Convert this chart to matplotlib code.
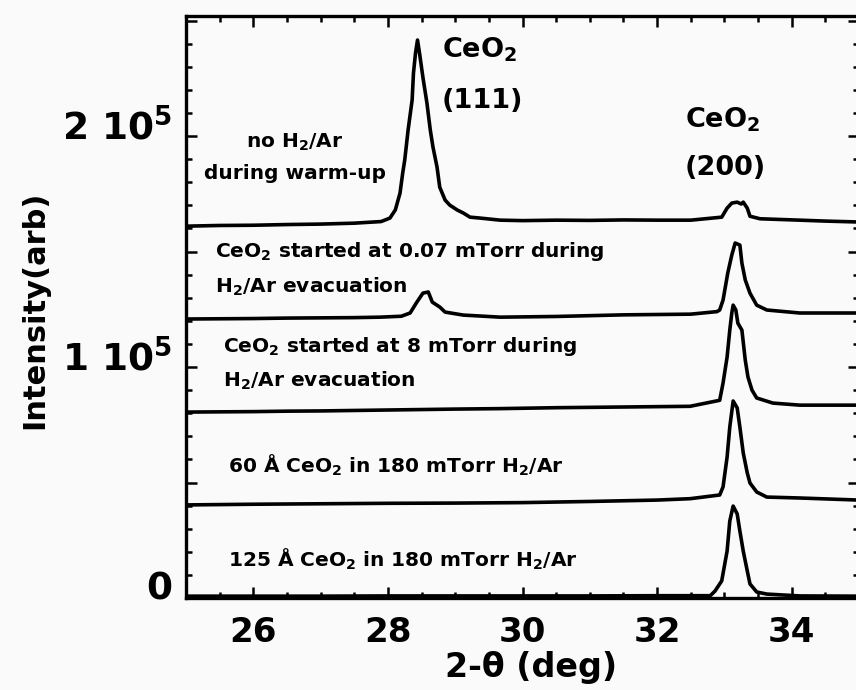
import matplotlib
matplotlib.use("Agg")
import matplotlib.pyplot as plt
import matplotlib.transforms as mtransforms
from matplotlib.ticker import FixedLocator, MultipleLocator

plt.rcParams["font.family"] = ["DejaVu Sans"]
plt.rcParams["font.weight"] = "bold"
plt.rcParams["axes.labelweight"] = "bold"
plt.rcParams["mathtext.fontset"] = "custom"
plt.rcParams["mathtext.rm"] = "DejaVu Sans:bold"
plt.rcParams["mathtext.bf"] = "DejaVu Sans:bold"
plt.rcParams["mathtext.default"] = "rm"

# trace 1: no H2/Ar during warm-up
tt_warmup = [25.0, 25.5, 26.0, 26.5, 27.0, 27.5, 27.9, 28.03, 28.11, 28.18, 28.22,
             28.25, 28.30, 28.36, 28.38, 28.41, 28.44, 28.47, 28.52, 28.58, 28.63,
             28.67, 28.73, 28.77, 28.85, 28.92, 29.03, 29.12, 29.22, 29.37, 29.67,
             30.0, 30.5, 31.0, 31.5, 32.0, 32.5, 32.96, 33.04, 33.11, 33.19, 33.25,
             33.28, 33.34, 33.38, 33.53, 34.12, 34.5, 35.0]
int_warmup = [161000, 161300, 161400, 161700, 161900, 162300, 163000, 164500, 168000,
              175300, 184000, 189600, 202600, 215600, 227300, 235900, 241600, 235900,
              225500, 214300, 202600, 195200, 186600, 177900, 172300, 170100, 168000,
              166700, 164900, 164500, 163600, 163400, 163600, 163500, 163700, 163600,
              163600, 164900, 168800, 171000, 171400, 170600, 171400, 168800, 165300,
              164200, 163600, 163200, 162800]

# trace 2: started at 0.07 mTorr
tt_007 = [25.0, 25.5, 26.0, 26.5, 27.0, 27.5, 27.88, 28.2, 28.33, 28.43, 28.52, 28.60,
          28.66, 28.77, 28.85, 29.12, 29.67, 30.5, 31.5, 32.5, 32.89, 32.93, 32.98,
          33.05, 33.11, 33.16, 33.23, 33.26, 33.31, 33.38, 33.48, 33.63, 34.12, 34.5,
          35.0]
int_007 = [120800, 120900, 121000, 121200, 121300, 121400, 121600, 122000, 123400,
           128100, 132000, 132500, 128100, 126000, 123800, 122500, 121600, 121900,
           122600, 122900, 124000, 124700, 129000, 140700, 148500, 153700, 152800,
           145000, 137700, 132000, 126800, 124700, 123400, 123400, 123400]

# trace 3: started at 8 mTorr
tt_8 = [25.0, 25.5, 26.0, 26.5, 27.0, 27.5, 28.0, 28.5, 29.0, 29.67, 30.5, 31.5,
        32.49, 32.93, 32.98, 33.04, 33.08, 33.11, 33.13, 33.17, 33.20, 33.26, 33.31,
        33.35, 33.41, 33.48, 33.72, 34.12, 35.0]
int_8 = [80500, 80600, 80700, 80900, 81000, 81200, 81400, 81600, 81800, 82000, 82400,
         82700, 83000, 85600, 93100, 104300, 116000, 123400, 126800, 124700, 119000,
         116000, 103000, 95700, 90000, 86600, 84400, 83500, 83500]

# trace 4: 60 A in 180 mTorr
tt_60 = [25.0, 26.0, 27.0, 28.0, 29.0, 30.0, 31.0, 32.0, 32.49, 32.93, 32.98, 33.04,
         33.08, 33.13, 33.19, 33.23, 33.28, 33.34, 33.38, 33.48, 33.63, 34.12, 35.0]
int_60 = [40300, 40600, 40800, 41000, 41100, 41300, 41800, 42400, 43000, 44600, 48100,
          61000, 74000, 85300, 82300, 74000, 62800, 54100, 49800, 45900, 43700, 43300,
          42400]

# trace 5: 125 A in 180 mTorr
tt_125 = [25.0, 26.0, 27.0, 28.0, 29.0, 30.0, 31.0, 32.0, 32.79, 32.86, 32.96, 33.04,
          33.08, 33.13, 33.19, 33.23, 33.28, 33.34, 33.38, 33.48, 33.63, 34.12, 35.0]
int_125 = [800, 800, 800, 900, 900, 900, 900, 1000, 1000, 3000, 7400, 20300, 33300,
           39800, 36400, 29000, 20300, 11700, 6100, 2600, 1700, 900, 800]

x_ticks = [26, 28, 30, 32, 34]
x_tick_labels = ["26", "28", "30", "32", "34"]
y_ticks = [0, 50000, 100000, 150000, 200000, 250000]
y_tick_labels = ["0", "", "1 10$^5$", "", "2 10$^5$", ""]

fig = plt.figure(figsize=(8.56, 6.90), dpi=100, facecolor="#fafafa")
ax = fig.add_axes([186 / 856, 92 / 690, 673 / 856, 582 / 690], facecolor="#fafafa")

for tt, yy in [(tt_warmup, int_warmup), (tt_007, int_007), (tt_8, int_8),
               (tt_60, int_60), (tt_125, int_125)]:
    ax.plot(tt, yy, color="black", lw=2.6, solid_joinstyle="round")

ax.set_xlim(25, 35)
ax.set_ylim(0, 252000)

ax.xaxis.set_major_locator(FixedLocator(x_ticks))
ax.set_xticklabels(x_tick_labels)
ax.xaxis.set_minor_locator(MultipleLocator(0.5))
ax.yaxis.set_major_locator(FixedLocator(y_ticks))
ax.set_yticklabels(y_tick_labels)
ax.yaxis.set_minor_locator(MultipleLocator(10000))

for side in ax.spines.values():
    side.set_linewidth(2.4)
ax.tick_params(which="both", direction="in", top=True, right=True, width=1.8)
ax.tick_params(which="major", length=8)
ax.tick_params(which="minor", length=4)
ax.tick_params(axis="x", labelsize=24.5, pad=13)
ax.tick_params(axis="y", labelsize=27, pad=10)

# the y labels sit a little above their ticks in the original
offset = mtransforms.ScaledTranslation(0, 9 / 72, fig.dpi_scale_trans)
for lab in ax.get_yticklabels():
    lab.set_transform(lab.get_transform() + offset)

ax.set_xlabel("2-θ (deg)", fontsize=24, fontweight="bold", ha="center", va="center")
ax.xaxis.set_label_coords(0.513, -0.12)
ax.set_ylabel("Intensity(arb)", fontsize=22, fontweight="bold", ha="center", va="center")
ax.yaxis.set_label_coords(-0.224, 0.495)

small = 14.5
ax.text(26.62, 197400, "no H$_2$/Ar", fontsize=small, ha="center", va="center")
ax.text(26.62, 184000, "during warm-up", fontsize=small, ha="center", va="center")
ax.text(28.80, 234200, "CeO$_2$", fontsize=19.5, ha="left", va="baseline")
ax.text(28.80, 212100, "(111)", fontsize=19.5, ha="left", va="baseline")
ax.text(32.41, 203900, "CeO$_2$", fontsize=19.5, ha="left", va="baseline")
ax.text(32.41, 183100, "(200)", fontsize=19.5, ha="left", va="baseline")
ax.text(25.43, 147600, "CeO$_2$ started at 0.07 mTorr during", fontsize=small, va="baseline")
ax.text(25.43, 132000, "H$_2$/Ar evacuation", fontsize=small, va="baseline")
ax.text(25.55, 106500, "CeO$_2$ started at 8 mTorr during", fontsize=small, va="baseline")
ax.text(25.55, 91300, "H$_2$/Ar evacuation", fontsize=small, va="baseline")
ax.text(25.62, 54100, "60 Å CeO$_2$ in 180 mTorr H$_2$/Ar", fontsize=small, va="baseline")
ax.text(25.62, 13400, "125 Å CeO$_2$ in 180 mTorr H$_2$/Ar", fontsize=small, va="baseline")

fig.savefig("out.png", dpi=100, facecolor=fig.get_facecolor())
